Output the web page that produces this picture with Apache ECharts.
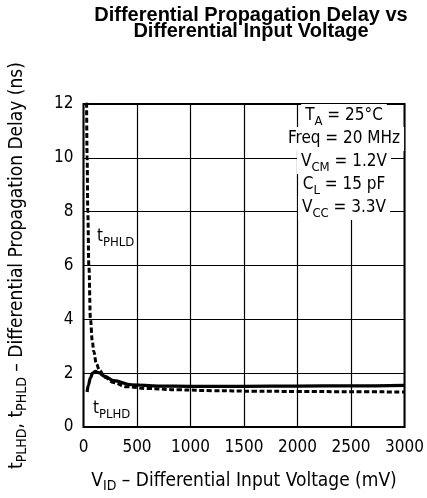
<!DOCTYPE html>
<html>
<head>
<meta charset="utf-8">
<script src="https://cdn.jsdelivr.net/npm/echarts@6/dist/echarts.min.js"></script>
<style>
  html, body { margin: 0; padding: 0; background: #fff; }
  #chart { width: 427px; height: 498px; }
</style>
</head>
<body>
<div id="chart"></div>
<script>
// t_PHLD (dashed)
const phldVid = [28, 34, 40, 50, 65, 82, 96, 120, 150, 200, 280, 400, 600, 900, 1200, 1600, 2000, 2500, 3000];
const phldDelay = [12.6, 10, 8, 6, 4, 3.2, 2.8, 2.35, 2.1, 1.85, 1.65, 1.5, 1.43, 1.38, 1.35, 1.33, 1.32, 1.31, 1.3];
// t_PLHD (solid)
const plhdVid = [34, 45, 65, 85, 110, 140, 200, 280, 450, 700, 1000, 1500, 2000, 2500, 3000];
const plhdDelay = [1.3, 1.55, 1.83, 2.0, 2.07, 2.02, 1.88, 1.72, 1.57, 1.52, 1.51, 1.51, 1.52, 1.53, 1.55];

const xMin = 0, xMax = 3000, xStep = 500;
const yMin = 0, yMax = 12, yStep = 2;

const notes = [
  '{t|T}{s|A}{t| = 25°C}',
  '{t|Freq = 20 MHz}',
  '{t|V}{s|CM}{t| = 1.2V}',
  '{t|C}{s|L}{t| = 15 pF}',
  '{t|V}{s|CC}{t| = 3.3V}'
];

const font = "'DejaVu Sans Condensed', 'DejaVu Sans', sans-serif";
const rich = {
  t: { fontFamily: font, fontSize: 17, color: '#000', lineHeight: 24 },
  s: { fontFamily: font, fontSize: 13, color: '#000', lineHeight: 24, verticalAlign: 'bottom', padding: [7, 0, 0, 0] }
};
const richName = {
  t: { fontFamily: font, fontSize: 19, color: '#000', lineHeight: 24 },
  s: { fontFamily: font, fontSize: 14, color: '#000', lineHeight: 24, verticalAlign: 'bottom', padding: [7, 0, 0, 0] }
};

const chart = echarts.init(document.getElementById('chart'));

const graphic = notes.map((txt, i) => ({
  type: 'text',
  z: 5,
  x: 344,
  y: 116 + i * 23,
  style: {
    text: txt, rich: rich, align: 'center', verticalAlign: 'middle',
    backgroundColor: '#fff', padding: [0, 4]
  }
}));
graphic.push({
  type: 'text', z: 5, x: 96, y: 237,
  style: { text: '{t|t}{s|PHLD}', rich: rich, align: 'left', verticalAlign: 'middle', backgroundColor: '#fff', padding: [0, 1] }
});
graphic.push({
  type: 'text', z: 5, x: 92, y: 409,
  style: { text: '{t|t}{s|PLHD}', rich: rich, align: 'left', verticalAlign: 'middle', backgroundColor: '#fff', padding: [0, 1] }
});

chart.setOption({
  animation: false,
  title: {
    text: 'Differential Propagation Delay vs\nDifferential Input Voltage',
    left: 246, top: 2, textAlign: 'center',
    textStyle: { fontFamily: "'Liberation Sans', Arial, sans-serif", fontWeight: 'bold', fontSize: 20, lineHeight: 16, color: '#000' }
  },
  grid: { left: 83, right: 22, top: 104, bottom: 71, show: true, borderColor: '#000', borderWidth: 2, backgroundColor: 'transparent' },
  xAxis: {
    type: 'value', min: xMin, max: xMax, interval: xStep,
    axisLine: { show: false }, axisTick: { show: false },
    axisLabel: { color: '#000', fontFamily: font, fontSize: 17, margin: 12, formatter: v => String(v) },
    splitLine: { show: true, lineStyle: { color: '#000', width: 1.2 } },
    name: '{t|V}{s|ID}{t| – Differential Input Voltage (mV)}',
    nameLocation: 'middle', nameGap: 42,
    nameTextStyle: { rich: richName }
  },
  yAxis: {
    type: 'value', min: yMin, max: yMax, interval: yStep,
    axisLine: { show: false }, axisTick: { show: false },
    axisLabel: { color: '#000', fontFamily: font, fontSize: 17, margin: 10 },
    splitLine: { show: true, lineStyle: { color: '#000', width: 1.2 } },
    name: '{t|t}{s|PLHD}{t|, t}{s|PHLD}{t| – Differential Propagation Delay (ns)}',
    nameLocation: 'middle', nameGap: 54,
    nameTextStyle: { rich: richName }
  },
  graphic: graphic,
  series: [
    {
      name: 'tPHLD', type: 'line', smooth: 0.4, smoothMonotone: 'x', showSymbol: false, clip: true,
      lineStyle: { color: '#000', width: 3, type: [5, 2.5] },
      data: phldVid.map((v, i) => [v, phldDelay[i]])
    },
    {
      name: 'tPLHD', type: 'line', smooth: 0.4, smoothMonotone: 'x', showSymbol: false, clip: true,
      lineStyle: { color: '#000', width: 3.2 },
      data: plhdVid.map((v, i) => [v, plhdDelay[i]])
    }
  ]
});
</script>
</body>
</html>
